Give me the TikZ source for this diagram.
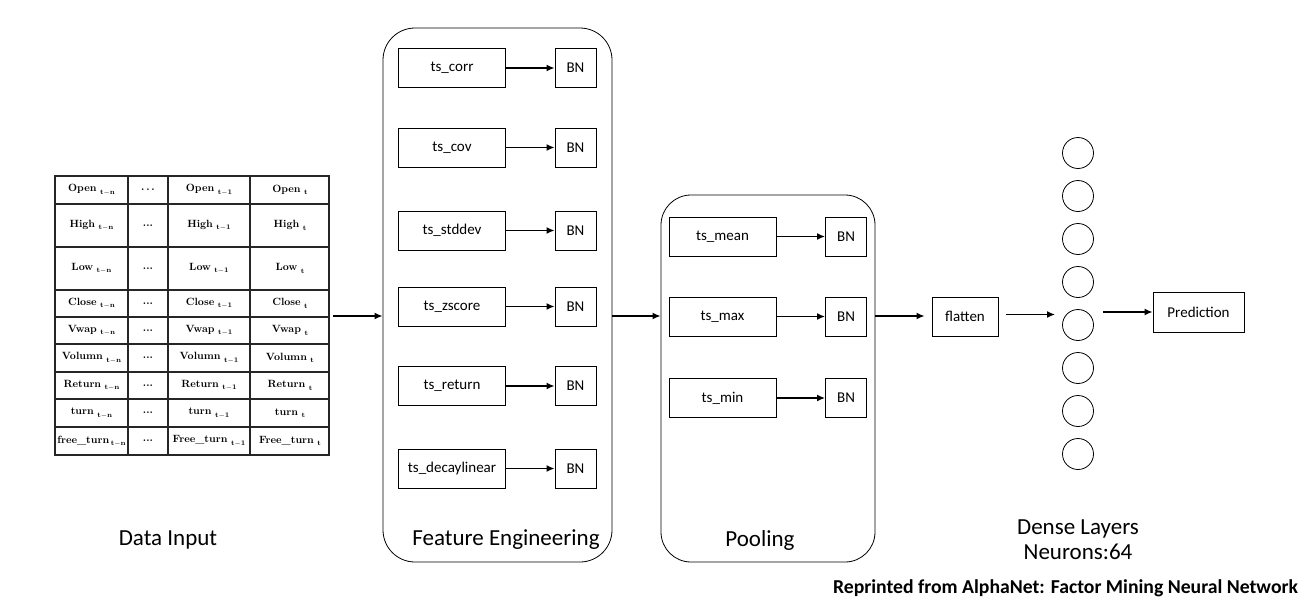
\documentclass[tikz,border=0pt]{standalone}
\usepackage{fontspec}
\newfontfamily\calib{Carlito}
\usetikzlibrary{arrows.meta}
\newcommand\mysub[1]{\hspace{3.5pt}\raisebox{-2.5pt}{\fontsize{7}{8}\selectfont #1}}
\begin{document}
\begin{tikzpicture}[x=1pt,y=-1pt,
 box/.style={draw, line width=0.8pt, inner sep=0pt, font=\calib\fontsize{15}{17}\selectfont},
 op/.style={box, minimum width=107pt, minimum height=39pt},
 bn/.style={box, minimum width=41pt, minimum height=39pt},
 cont/.style={draw, line width=0.8pt, inner sep=0pt},
 lab/.style={font=\calib\fontsize{23}{25}\selectfont, inner sep=0pt},
 arr/.style={line width=1.8pt, -{Latex[length=8pt,width=7pt]}},
 neuron/.style={draw, circle, line width=0.8pt, minimum size=31pt, inner sep=0pt},
 cell/.style={font=\bfseries\fontsize{10.5}{12}\selectfont, inner sep=0pt},
 tline/.style={line width=1.1pt, black!85}]
\useasboundingbox (0,0) rectangle (1301,600);

% ---- data input table ----
\foreach \y in {176,204,247,290,317,344,372,399,427,455}
  \draw[tline] (54.4,\y) -- (329.6,\y);
\foreach \x in {55,128,168,250,329}
  \draw[tline] (\x,175.4) -- (\x,455.6);
\node[cell] (c11) at (91.5,190) {Open\mysub{t$-$n}};
\node[cell] (c12) at (148,190) {.\,.\,.};
\node[cell] (c13) at (209,190) {Open\mysub{t$-$1}};
\node[cell] (c14) at (290,190) {Open\mysub{t}};
\foreach \nm/\y/\i in {High/225.5/2, Low/268.5/3, Close/303.5/4, Vwap/330.5/5, Volumn/358/6, Return/385.5/7, turn/413/8} {
  \node[cell] (c\i1) at (91.5,\y) {\nm\mysub{t$-$n}};
  \node[cell] (c\i2) at (148,\y) {...};
  \node[cell] (c\i3) at (209,\y) {\nm\mysub{t$-$1}};
  \node[cell] (c\i4) at (290,\y) {\nm\mysub{t}};
}
\node[cell] (c91) at (91.5,441) {free\_turn\hspace{-2pt}\mysub{t$-$n}};
\node[cell] (c92) at (148,441) {...};
\node[cell] (c93) at (209,441) {Free\_turn\mysub{t$-$1}};
\node[cell] (c94) at (290,441) {Free\_turn\mysub{t}};

% ---- containers ----
\node[cont, rounded corners=32pt, minimum width=229pt, minimum height=534pt] (fe) at (497.5,295) {};
\node[cont, rounded corners=30pt, minimum width=214pt, minimum height=367pt] (pool) at (768,378.5) {};

% ---- feature engineering ----
\foreach \t/\y [count=\i] in {ts\_corr/68, ts\_cov/147.5, ts\_stddev/230.5, ts\_zscore/306.5, ts\_return/386, ts\_decaylinear/468.5} {
  \node[op] (f\i) at (452,\y) {\t};
  \node[bn] (fb\i) at (575.5,\y) {BN};
  \draw[arr] (f\i) -- (fb\i);
}

% ---- pooling ----
\foreach \t/\y [count=\i] in {ts\_mean/236.5, ts\_max/316.5, ts\_min/398} {
  \node[op] (p\i) at (722.5,\y) {\t};
  \node[bn] (pb\i) at (846,\y) {BN};
  \draw[arr] (p\i) -- (pb\i);
}

% ---- flatten, dense, prediction ----
\node[box, minimum width=66pt, minimum height=39pt] (flat) at (965,316.5) {flatten};
\foreach \k in {1,...,8}
  \node[neuron] (n\k) at (1078,{153+43*(\k-1)}) {};
\node[box, minimum width=91pt, minimum height=40pt] (pred) at (1198.5,312) {Prediction};

% ---- connectors ----
\coordinate (tabE) at (333,316);
\draw[arr] (tabE) -- (tabE -| fe.west);
\draw[arr] (tabE -| fe.east) -- (tabE -| pool.west);
\draw[arr, shorten >=7pt] (tabE -| pool.east) -- (tabE -| flat.west);
\coordinate (fa) at ([yshift=2pt]flat.east);
\draw[arr, shorten <=8pt, shorten >=7pt] (fa) -- (fa -| n5.west);
\draw[arr, shorten <=9.5pt] (pred.west -| n5.east) -- (pred.west);

% ---- labels ----
\node[lab] (l1) at (168,540) {Data Input};
\node[lab] (l2) at (506,540) {Feature Engineering};
\node[lab] (l3) at (760,540) {Pooling};
\node[lab, align=center] (l4) at (1078,539.5) {Dense Layers\\Neurons:64};
\node[font=\calib\bfseries\fontsize{19.7}{22}\selectfont, inner sep=0pt] (rep) at (1065.5,588) {Reprinted from AlphaNet: Factor Mining Neural Network};
\end{tikzpicture}
\end{document}
